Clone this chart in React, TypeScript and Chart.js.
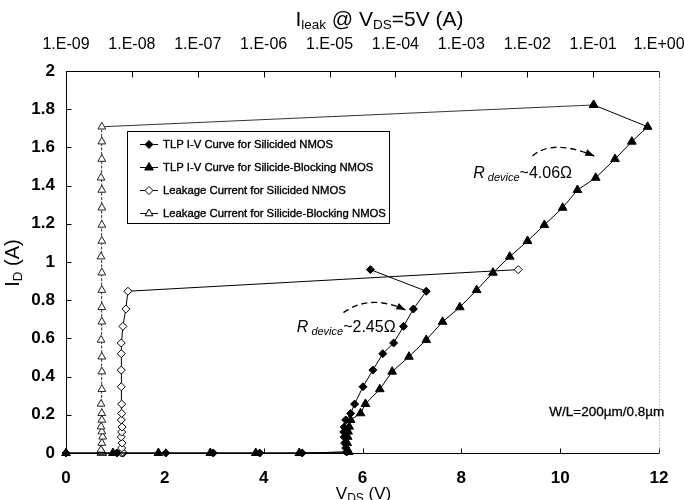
import React, { useEffect, useRef } from 'react';
import { Chart, registerables } from 'chart.js';
Chart.register(...registerables);

const FONT = '"Liberation Sans", Arial, Helvetica, sans-serif';

// Axis ticks
const vdsTicks = [0, 2, 4, 6, 8, 10, 12];
const idTicks = [0, 0.2, 0.4, 0.6, 0.8, 1, 1.2, 1.4, 1.6, 1.8, 2];
const leakTicks = [1e-9, 1e-8, 1e-7, 1e-6, 1e-5, 1e-4, 1e-3, 1e-2, 1e-1, 1e0];

const seriesNames = [
  'TLP I-V Curve for Silicided NMOS',
  'TLP I-V Curve for Silicide-Blocking NMOS',
  'Leakage Current for Silicided NMOS',
  'Leakage Current for Silicide-Blocking NMOS',
];

// TLP I-V, silicided NMOS (V_DS in V, I_D in A)
const tlpSilV = [0, 1.03, 2.02, 2.98, 3.92, 4.78, 5.68, 5.66, 5.64, 5.63, 5.62, 5.63, 5.66, 5.76, 5.84, 6.01, 6.21, 6.41, 6.63, 6.83, 7.03, 7.29, 6.16];
const tlpSilI = [0, 0, 0, 0, 0, 0, 0.005, 0.026, 0.052, 0.084, 0.11, 0.136, 0.173, 0.207, 0.256, 0.347, 0.434, 0.52, 0.576, 0.663, 0.754, 0.847, 0.96];
// Leakage after each pulse, silicided NMOS (A), same I_D as tlpSilI
const leakSil = [7.2e-9, 7.0e-9, 7.4e-9, 7.1e-9, 7.3e-9, 7.0e-9, 7.2e-9, 7.0e-9, 7.1e-9, 6.9e-9, 7.0e-9, 7.1e-9, 6.9e-9, 7.0e-9, 7.0e-9, 6.9e-9, 6.9e-9, 6.9e-9, 6.9e-9, 7.3e-9, 8.1e-9, 8.7e-9, 7.3e-3];

// TLP I-V, silicide-blocking NMOS
const tlpBlkV = [0, 0.95, 1.87, 2.92, 3.84, 4.72, 5.72, 5.70, 5.69, 5.70, 5.71, 5.73, 5.76, 5.96, 6.06, 6.35, 6.60, 6.94, 7.29, 7.62, 7.97, 8.31, 8.64, 8.98, 9.34, 9.68, 10.05, 10.35, 10.72, 11.11, 11.45, 11.77, 10.68];
const tlpBlkI = [0, 0, 0, 0, 0, 0, 0.005, 0.016, 0.052, 0.085, 0.112, 0.138, 0.173, 0.208, 0.257, 0.334, 0.426, 0.504, 0.592, 0.687, 0.763, 0.853, 0.944, 1.028, 1.110, 1.194, 1.284, 1.377, 1.441, 1.539, 1.630, 1.708, 1.822];
// Leakage, silicide-blocking NMOS (A), same I_D as tlpBlkI
const leakBlk = [3.5e-9, 3.4e-9, 3.6e-9, 3.5e-9, 3.4e-9, 3.6e-9, 3.5e-9, 3.4e-9, 3.5e-9, 3.6e-9, 3.5e-9, 3.4e-9, 3.5e-9, 3.5e-9, 3.4e-9, 3.5e-9, 3.5e-9, 3.5e-9, 3.4e-9, 3.5e-9, 3.5e-9, 3.5e-9, 3.5e-9, 3.4e-9, 3.5e-9, 3.5e-9, 3.5e-9, 3.5e-9, 3.4e-9, 3.5e-9, 3.5e-9, 3.5e-9, 1.0e-1];

function fmtLeak(v: number) {
  const e = Math.round(Math.log10(v));
  const a = Math.abs(e);
  return '1.E' + (e < 0 ? '-' : '+') + (a < 10 ? '0' : '') + a;
}

type Part = { t: string; size: number; italic?: boolean; bold?: boolean; dy?: number };
const fontOf = (p: Part) => `${p.italic ? 'italic ' : ''}${p.bold ? 'bold ' : ''}${p.size}px ${FONT}`;
function richWidth(ctx: CanvasRenderingContext2D, parts: Part[]) {
  let w = 0;
  for (const p of parts) { ctx.font = fontOf(p); w += ctx.measureText(p.t).width; }
  return w;
}
function drawRich(ctx: CanvasRenderingContext2D, parts: Part[], x: number, y: number, center: boolean) {
  let cx = center ? x - richWidth(ctx, parts) / 2 : x;
  ctx.textAlign = 'left';
  ctx.textBaseline = 'alphabetic';
  ctx.fillStyle = '#000';
  for (const p of parts) {
    ctx.font = fontOf(p);
    ctx.fillText(p.t, cx, y + (p.dy || 0));
    cx += ctx.measureText(p.t).width;
  }
}

function marker(ctx: CanvasRenderingContext2D, shape: string, x: number, y: number, r: number, filled: boolean) {
  ctx.beginPath();
  if (shape === 'diamond') {
    ctx.moveTo(x, y - r); ctx.lineTo(x + r, y); ctx.lineTo(x, y + r); ctx.lineTo(x - r, y);
  } else {
    const s = Math.sin(Math.PI / 3) * r;
    ctx.moveTo(x, y - r); ctx.lineTo(x + s, y + r / 2); ctx.lineTo(x - s, y + r / 2);
  }
  ctx.closePath();
  ctx.fillStyle = filled ? '#000' : '#fff';
  ctx.fill();
  ctx.strokeStyle = '#000';
  ctx.lineWidth = 1;
  ctx.stroke();
}

function dashedArrow(ctx: CanvasRenderingContext2D, p0: number[], c: number[], p2: number[]) {
  ctx.save();
  ctx.strokeStyle = '#000';
  ctx.lineWidth = 1.4;
  ctx.setLineDash([6, 4]);
  ctx.beginPath();
  ctx.moveTo(p0[0], p0[1]);
  ctx.quadraticCurveTo(c[0], c[1], p2[0], p2[1]);
  ctx.stroke();
  ctx.setLineDash([]);
  const ang = Math.atan2(p2[1] - c[1], p2[0] - c[0]);
  const L = 9, W = 3.5;
  ctx.beginPath();
  ctx.moveTo(p2[0], p2[1]);
  ctx.lineTo(p2[0] - L * Math.cos(ang) + W * Math.sin(ang), p2[1] - L * Math.sin(ang) - W * Math.cos(ang));
  ctx.lineTo(p2[0] - L * Math.cos(ang) - W * Math.sin(ang), p2[1] - L * Math.sin(ang) + W * Math.cos(ang));
  ctx.closePath();
  ctx.fillStyle = '#000';
  ctx.fill();
  ctx.restore();
}

const decor = {
  id: 'decor',
  beforeDatasetsDraw(chart: any) {
    const { ctx, chartArea: a, scales } = chart;
    const L = Math.round(a.left) + 0.5, R = Math.round(a.right) + 0.5;
    const T = Math.round(a.top) + 0.5, B = Math.round(a.bottom) + 0.5;
    ctx.save();
    ctx.strokeStyle = '#000';
    ctx.lineWidth = 1;
    ctx.beginPath();
    ctx.moveTo(L, T); ctx.lineTo(R, T);
    ctx.moveTo(L, T); ctx.lineTo(L, B);
    ctx.moveTo(L, B); ctx.lineTo(R, B);
    for (const v of idTicks) { const y = Math.round(scales.y.getPixelForValue(v)) + 0.5; ctx.moveTo(L, y); ctx.lineTo(L + 5, y); }
    for (const v of vdsTicks) { const x = Math.round(scales.x.getPixelForValue(v)) + 0.5; ctx.moveTo(x, B); ctx.lineTo(x, B - 5); }
    for (const v of leakTicks) { const x = Math.round(scales.x2.getPixelForValue(v)) + 0.5; ctx.moveTo(x, T); ctx.lineTo(x, T + 6); }
    ctx.stroke();
    ctx.strokeStyle = '#999';
    ctx.setLineDash([1, 2]);
    ctx.beginPath();
    ctx.moveTo(R, T); ctx.lineTo(R, B);
    ctx.stroke();
    ctx.restore();
  },
  afterDatasetsDraw(chart: any) {
    const { ctx, chartArea: a, scales } = chart;
    const px = (v: number) => scales.x.getPixelForValue(v);
    const py = (v: number) => scales.y.getPixelForValue(v);
    ctx.save();

    // Legend
    const lx = 127, ly = 131, lw = 262, lh = 92;
    ctx.fillStyle = '#fff';
    ctx.fillRect(lx, ly, lw, lh);
    ctx.strokeStyle = '#000';
    ctx.lineWidth = 1;
    ctx.strokeRect(lx + 0.5, ly + 0.5, lw, lh);
    const shapes = [['diamond', true, 4], ['triangle', true, 5], ['diamond', false, 4], ['triangle', false, 4.5]] as const;
    seriesNames.forEach((name, i) => {
      const y = ly + 13 + i * 23;
      ctx.beginPath();
      ctx.strokeStyle = '#000';
      ctx.lineWidth = 1;
      ctx.moveTo(140, y + 0.5); ctx.lineTo(158, y + 0.5);
      ctx.stroke();
      marker(ctx, shapes[i][0], 149, y + 0.5, shapes[i][2], shapes[i][1]);
      ctx.fillStyle = '#000';
      ctx.strokeStyle = '#000';
      ctx.lineWidth = 0.35;
      ctx.font = `11.3px ${FONT}`;
      ctx.textAlign = 'left';
      ctx.textBaseline = 'middle';
      ctx.fillText(name, 163, y + 1);
      ctx.strokeText(name, 163, y + 1);
    });

    // Resistance annotations
    const rdev = (val: string): Part[] => [
      { t: 'R', size: 16, italic: true },
      { t: ' device', size: 11, italic: true, dy: 3 },
      { t: val, size: 16 },
    ];
    drawRich(ctx, rdev('~2.45Ω'), px(4.67), py(0.635), false);
    drawRich(ctx, rdev('~4.06Ω'), px(8.24), py(1.44), false);
    dashedArrow(ctx, [px(5.615), py(0.735)], [px(6.15), py(0.835)], [px(6.87), py(0.749)]);
    dashedArrow(ctx, [px(9.44), py(1.555)], [px(9.84), py(1.646)], [px(10.69), py(1.555)]);

    ctx.fillStyle = '#000';
    ctx.strokeStyle = '#000';
    ctx.lineWidth = 0.3;
    ctx.font = `13.5px ${FONT}`;
    ctx.textAlign = 'left';
    ctx.textBaseline = 'alphabetic';
    ctx.fillText('W/L=200µm/0.8µm', px(9.78), py(0.195));
    ctx.strokeText('W/L=200µm/0.8µm', px(9.78), py(0.195));

    // Axis titles
    const cx = (a.left + a.right) / 2;
    drawRich(ctx, [
      { t: 'I', size: 21 },
      { t: 'leak', size: 13.5, dy: 3 },
      { t: ' @ V', size: 21 },
      { t: 'DS', size: 13.5, dy: 3 },
      { t: '=5V (A)', size: 21 },
    ], cx + 17, 26, true);
    drawRich(ctx, [
      { t: 'V', size: 17 },
      { t: 'DS', size: 12, dy: 3 },
      { t: ' (V)', size: 17 },
    ], cx + 1, 499, true);
    ctx.save();
    ctx.translate(19, 263);
    ctx.rotate(-Math.PI / 2);
    drawRich(ctx, [
      { t: 'I', size: 20 },
      { t: 'D', size: 13.5, dy: 3 },
      { t: ' (A)', size: 20 },
    ], 0, 0, true);
    ctx.restore();

    ctx.restore();
  },
};

const pts = (xs: number[], ys: number[]) => xs.map((x, i) => ({ x, y: ys[i] }));
const noPadX = (h: number) => (s: any) => { s.height = h; s.paddingLeft = 0; s.paddingRight = 0; };

export default function App() {
  const ref = useRef<HTMLCanvasElement>(null);
  useEffect(() => {
    document.body.style.margin = '0';
    const canvas = ref.current;
    if (!canvas) return;
    const tickFont = { family: FONT, size: 17, weight: 'bold' as const };
    const lastBlk = leakBlk.length - 1;
    const chart = new Chart(canvas, {
      type: 'scatter',
      data: {
        datasets: [
          {
            label: seriesNames[0], data: pts(tlpSilV, tlpSilI), xAxisID: 'x', yAxisID: 'y', showLine: true,
            borderColor: '#000', borderWidth: 1, pointStyle: 'rectRot', pointRadius: 4,
            pointBackgroundColor: '#000', pointBorderColor: '#000', pointBorderWidth: 1, clip: false,
          },
          {
            label: seriesNames[1], data: pts(tlpBlkV, tlpBlkI), xAxisID: 'x', yAxisID: 'y', showLine: true,
            borderColor: '#000', borderWidth: 1, pointStyle: 'triangle', pointRadius: 5,
            pointBackgroundColor: '#000', pointBorderColor: '#000', pointBorderWidth: 1, clip: false,
          },
          {
            label: seriesNames[2], data: pts(leakSil, tlpSilI), xAxisID: 'x2', yAxisID: 'y', showLine: true,
            borderColor: '#000', borderWidth: 1, pointStyle: 'rectRot', pointRadius: 4,
            pointBackgroundColor: '#fff', pointBorderColor: '#000', pointBorderWidth: 1, clip: false,
          },
          {
            label: seriesNames[3], data: pts(leakBlk, tlpBlkI), xAxisID: 'x2', yAxisID: 'y', showLine: true,
            borderColor: '#333', borderWidth: 1, pointStyle: 'triangle', pointRadius: 4.5,
            segment: { borderDash: (c: any) => (c.p1DataIndex === lastBlk ? [] : [3, 1.5]) },
            pointBackgroundColor: '#fff', pointBorderColor: '#222', pointBorderWidth: 1, clip: false,
          },
        ],
      },
      options: {
        animation: false,
        responsive: false,
        maintainAspectRatio: false,
        layout: { padding: { left: 0, right: 25, top: 0, bottom: 0 } },
        plugins: { legend: { display: false }, tooltip: { enabled: false } },
        scales: {
          x: {
            type: 'linear', position: 'bottom', min: 0, max: 12,
            afterBuildTicks: (s: any) => { s.ticks = vdsTicks.map((value) => ({ value })); },
            afterFit: noPadX(47),
            grid: { display: false, drawTicks: false },
            border: { display: false },
            ticks: { font: tickFont, color: '#000', padding: 15, autoSkip: false, maxRotation: 0, minRotation: 0 },
          },
          x2: {
            type: 'logarithmic', position: 'top', min: 1e-9, max: 1,
            afterBuildTicks: (s: any) => { s.ticks = leakTicks.map((value) => ({ value })); },
            afterFit: noPadX(71),
            grid: { display: false, drawTicks: false },
            border: { display: false },
            ticks: {
              font: { family: FONT, size: 16 }, color: '#000', padding: 17, autoSkip: false, maxRotation: 0, minRotation: 0,
              callback: (v: any) => fmtLeak(Number(v)),
            },
          },
          y: {
            type: 'linear', position: 'left', min: 0, max: 2,
            afterBuildTicks: (s: any) => { s.ticks = idTicks.map((value) => ({ value })); },
            afterFit: (s: any) => { s.width = 66; s.paddingTop = 0; s.paddingBottom = 0; },
            grid: { display: false, drawTicks: false },
            border: { display: false },
            ticks: { font: tickFont, color: '#000', padding: 11, autoSkip: false, callback: (v: any) => String(v) },
          },
        },
      },
      plugins: [decor],
    } as any);
    return () => chart.destroy();
  }, []);
  return (
    <div style={{ position: 'absolute', left: 0, top: 0, width: 684, height: 500, background: '#fff' }}>
      <canvas ref={ref} width={684} height={500} style={{ display: 'block', width: 684, height: 500 }} />
    </div>
  );
}
